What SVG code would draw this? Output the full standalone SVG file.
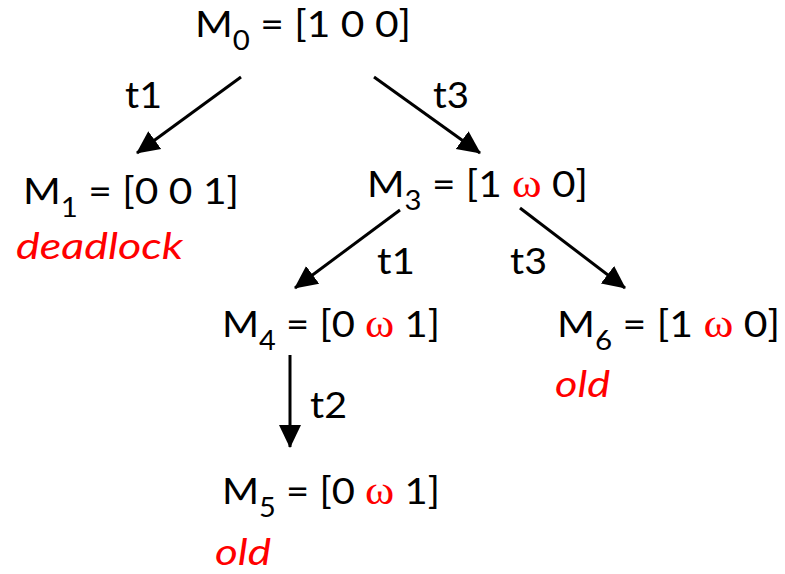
<svg xmlns="http://www.w3.org/2000/svg" width="785" height="574" viewBox="0 0 785 574">
<style>
text{font-family:Lato,"Liberation Sans",sans-serif;font-size:36px;fill:#000}
.sub{font-size:26px}
.om{font-family:"Liberation Serif",serif;fill:#ff0000;font-size:40px}
.note{font-style:italic;fill:#ff0000;font-size:37px}
.edge{stroke:#000;stroke-width:3;fill:none;marker-end:url(#ah)}
</style>
<defs>
<marker id="ah" markerUnits="userSpaceOnUse" markerWidth="24" markerHeight="24" viewBox="0 0 24 24" refX="22" refY="12" orient="auto">
<path d="M0,1 L23,12 L0,23 Z" fill="#000"/>
</marker>
</defs>
<g id="connectors">
<line class="edge" x1="241" y1="77" x2="137" y2="153"/>
<line class="edge" x1="374" y1="77" x2="480" y2="153"/>
<line class="edge" x1="400" y1="210" x2="295" y2="288"/>
<line class="edge" x1="520" y1="208" x2="625" y2="288"/>
<line class="edge" x1="290" y1="355" x2="290" y2="447"/>
<text x="125" y="108" textLength="37" lengthAdjust="spacingAndGlyphs">t1</text>
<text x="433" y="108" textLength="36" lengthAdjust="spacingAndGlyphs">t3</text>
<text x="377" y="274" textLength="38" lengthAdjust="spacingAndGlyphs">t1</text>
<text x="510" y="274" textLength="37" lengthAdjust="spacingAndGlyphs">t3</text>
<text x="310" y="418" textLength="37" lengthAdjust="spacingAndGlyphs">t2</text>
</g>
<g id="M0">
<text x="195" y="37" textLength="216" lengthAdjust="spacingAndGlyphs">M<tspan class="sub" dy="13">0</tspan><tspan dy="-13"> = [1 0 0]</tspan></text>
</g>
<g id="M1">
<text x="23" y="204" textLength="216" lengthAdjust="spacingAndGlyphs">M<tspan class="sub" dy="13">1</tspan><tspan dy="-13"> = [0 0 1]</tspan></text>
<text class="note" x="16" y="259" textLength="167" lengthAdjust="spacingAndGlyphs">deadlock</text>
</g>
<g id="M3">
<text x="367" y="197" textLength="221" lengthAdjust="spacingAndGlyphs">M<tspan class="sub" dy="13">3</tspan><tspan dy="-13"> = [1 </tspan><tspan class="om">ω</tspan> 0]</text>
</g>
<g id="M4">
<text x="222" y="337" textLength="218" lengthAdjust="spacingAndGlyphs">M<tspan class="sub" dy="13">4</tspan><tspan dy="-13"> = [0 </tspan><tspan class="om">ω</tspan> 1]</text>
</g>
<g id="M6">
<text x="557" y="337" textLength="223" lengthAdjust="spacingAndGlyphs">M<tspan class="sub" dy="13">6</tspan><tspan dy="-13"> = [1 </tspan><tspan class="om">ω</tspan> 0]</text>
<text class="note" x="555" y="397" textLength="55" lengthAdjust="spacingAndGlyphs">old</text>
</g>
<g id="M5">
<text x="222" y="504" textLength="218" lengthAdjust="spacingAndGlyphs">M<tspan class="sub" dy="13">5</tspan><tspan dy="-13"> = [0 </tspan><tspan class="om">ω</tspan> 1]</text>
<text class="note" x="215" y="565" textLength="56" lengthAdjust="spacingAndGlyphs">old</text>
</g>
</svg>
